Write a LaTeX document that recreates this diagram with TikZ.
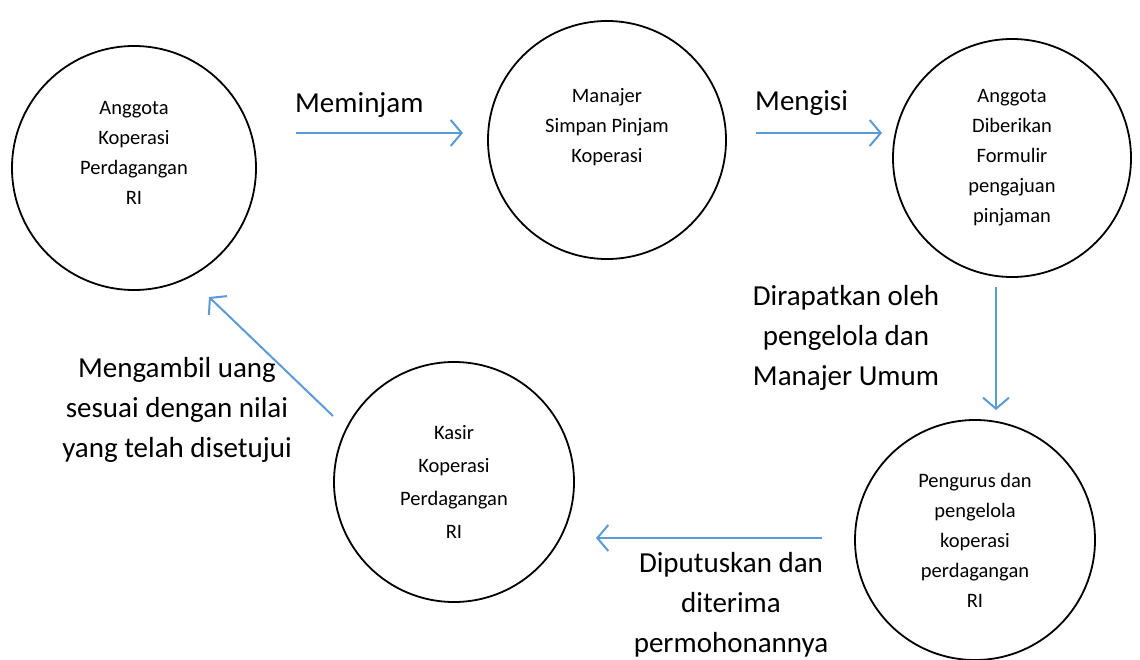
\documentclass[tikz,border=0pt]{standalone}
\usepackage{fontspec}
\setmainfont{Carlito}
\usetikzlibrary{arrows.meta,positioning}
\definecolor{flowblue}{RGB}{91,155,213}
\tikzstyle{actor} = [circle, draw=black, line width=1.8pt, minimum size=238pt, align=center, font=\fontsize{20.5}{30}\selectfont]
\tikzstyle{arrow} = [flowblue, line width=2pt, -{Straight Barb[length=11pt, width=26pt]}]
\tikzstyle{lbl} = [align=center, inner sep=0pt, font=\fontsize{29}{40}\selectfont]

\begin{document}
\begin{tikzpicture}[x=1pt, y=-1pt]
\useasboundingbox (0,0) rectangle (1140,660);
\node (anggota) [actor, minimum size=244pt] at (134,168) {Anggota\\Koperasi\\Perdagangan\\RI\\\mbox{}};
\node (manajer) [actor] at (607,140) {Manajer\\Simpan Pinjam\\Koperasi\\\mbox{}};
\node (formulir) [actor] at (1012,158) {Anggota\\Diberikan\\Formulir\\pengajuan\\pinjaman};
\node (pengurus) [actor, minimum size=240pt] at (975,540) {Pengurus dan\\pengelola\\koperasi\\perdagangan\\RI};
\node (kasir) [actor, minimum size=240pt, font=\fontsize{20.5}{33}\selectfont] at (454,482) {Kasir\\Koperasi\\Perdagangan\\RI};

\coordinate (pinjam_a) at (296,133);
\coordinate (pinjam_b) at (463,133);
\coordinate (isi_a) at (756,133);
\coordinate (isi_b) at (882,133);
\coordinate (rapat_a) at (996,287);
\coordinate (rapat_b) at (996,410);
\coordinate (putus_a) at (822,538);
\coordinate (putus_b) at (596,538);
\coordinate (ambil_a) at (333,416);
\coordinate (ambil_b) at (209,297);

\node (meminjam) [lbl, anchor=west] at (295,105) {Meminjam};
\node (mengisi) [lbl, anchor=west] at (755,103) {Mengisi};
\node (dirapatkan) [lbl] at (846,338) {Dirapatkan oleh\\pengelola dan\\Manajer Umum};
\node (diputuskan) [lbl] at (731,605) {Diputuskan dan\\diterima\\permohonannya};
\node (mengambil) [lbl] at (177,410) {Mengambil uang\\sesuai dengan nilai\\yang telah disetujui};

\draw[arrow] (pinjam_a) -- (pinjam_b);
\draw[arrow] (isi_a) -- (isi_b);
\draw[arrow] (rapat_a) -- (rapat_b);
\draw[arrow] (putus_a) -- (putus_b);
\draw[arrow] (ambil_a) -- (ambil_b);
\end{tikzpicture}
\end{document}
